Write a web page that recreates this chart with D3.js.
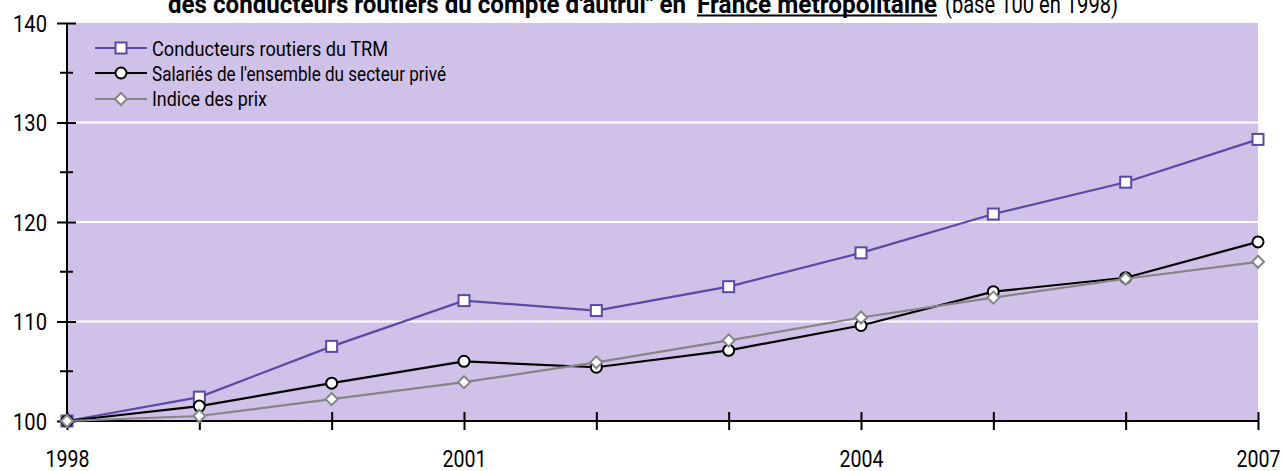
<!DOCTYPE html>
<html><head><meta charset="utf-8">
<script src="https://cdn.jsdelivr.net/npm/d3@7"></script>
<style>
body{margin:0;background:#fff;}
svg{display:block;}
text{font-family:Roboto,"Liberation Sans",sans-serif;}
</style></head>
<body>
<svg id="chart" width="1283" height="471"></svg>
<script>
const years = [1998,1999,2000,2001,2002,2003,2004,2005,2006,2007];
const trm      = [100,102.4,107.5,112.1,111.1,113.5,116.9,120.8,124.0,128.3];
const salaries = [100,101.5,103.8,106.0,105.4,107.1,109.6,113.0,114.4,118.0];
const prix     = [100,100.5,102.2,103.9,105.9,108.1,110.4,112.4,114.3,116.0];
const seriesNames = ["Conducteurs routiers du TRM","Salariés de l'ensemble du secteur privé","Indice des prix"];
const yTicks = [100,110,120,130,140];
const yMinorTicks = [105,115,125,135];
const xLabelYears = [1998,2001,2004,2007];
const titleParts = ["des conducteurs routiers du compte d'autrui\" en","France métropolitaine","(base 100 en 1998)"];

const svg = d3.select("#chart");
const L=67, R=1258, T=23, B=421;
const x = d3.scaleLinear().domain([1998,2007]).range([L,R]);
const y = d3.scaleLinear().domain([100,140]).range([B,T]);

// plot background
svg.append("rect").attr("x",L).attr("y",T).attr("width",R-L).attr("height",B-T).attr("fill","#d0c1e8");
// gridlines
svg.append("g").selectAll("line").data(yTicks.filter(d=>d>100&&d<140)).join("line")
  .attr("x1",L).attr("x2",R).attr("y1",d=>y(d)).attr("y2",d=>y(d))
  .attr("stroke","#fff").attr("stroke-width",2);

// y axis
const yAxis = svg.append("g").attr("transform",`translate(${L},0)`)
  .call(d3.axisLeft(y).tickValues(yTicks).tickSize(10).tickPadding(6).tickFormat(d3.format("d")));
yAxis.select(".domain").attr("stroke","#000").attr("stroke-width",2).attr("d",`M0,${T}V${B}`);
yAxis.selectAll(".tick line").attr("x1",-10).attr("x2",9).attr("stroke","#000").attr("stroke-width",2);
yAxis.selectAll(".tick text").attr("font-size",23).attr("fill","#000").attr("x",-20).attr("dy","0.36em")
  .attr("textLength",34).attr("lengthAdjust","spacingAndGlyphs");
svg.append("g").selectAll("line").data(yMinorTicks).join("line")
  .attr("x1",L-7).attr("x2",L+6).attr("y1",d=>y(d)).attr("y2",d=>y(d))
  .attr("stroke","#000").attr("stroke-width",2);

// x axis
const xAxis = svg.append("g").attr("transform",`translate(0,${B})`)
  .call(d3.axisBottom(x).tickValues(years).tickSize(9).tickFormat(d=>xLabelYears.includes(d)?String(d):""));
xAxis.select(".domain").attr("stroke","#000").attr("stroke-width",2).attr("d",`M${L},0H${R}`);
xAxis.selectAll(".tick line").attr("y1",-9).attr("y2",9).attr("stroke","#000").attr("stroke-width",2);
xAxis.selectAll(".tick text").attr("font-size",23).attr("fill","#000").attr("y",46).attr("dy",0)
  .attr("textLength",d=>xLabelYears.includes(d)?44:null).attr("lengthAdjust","spacingAndGlyphs");

const series = [
  {name:seriesNames[0], values:trm, color:"#5a4aa5", shape:"square"},
  {name:seriesNames[1], values:salaries, color:"#000000", shape:"circle"},
  {name:seriesNames[2], values:prix, color:"#858585", shape:"diamond"}
];
const line = d3.line().x((d,i)=>x(years[i])).y(d=>y(d));

function drawMarker(g, shape, color, cx, cy){
  if(shape==="square"){
    g.append("rect").attr("x",cx-5.5).attr("y",cy-5.5).attr("width",11).attr("height",11)
      .attr("fill","#fff").attr("stroke",color).attr("stroke-width",2);
  } else if(shape==="circle"){
    g.append("circle").attr("cx",cx).attr("cy",cy).attr("r",5.5)
      .attr("fill","#fff").attr("stroke",color).attr("stroke-width",2);
  } else {
    const s=6;
    g.append("path").attr("d",`M${cx},${cy-s}L${cx+s},${cy}L${cx},${cy+s}L${cx-s},${cy}Z`)
      .attr("fill","#fff").attr("stroke",color).attr("stroke-width",2);
  }
}

series.forEach(s=>{
  svg.append("path").datum(s.values).attr("d",line).attr("fill","none")
    .attr("stroke",s.color).attr("stroke-width",2.2);
});
series.forEach(s=>{
  const g=svg.append("g");
  s.values.forEach((v,i)=>drawMarker(g,s.shape,s.color,x(years[i]),y(v)));
});

// legend
const legRows=[48,73,99], legBase=[56,81,106], legLen=[236,294,115];
series.forEach((s,i)=>{
  svg.append("line").attr("x1",95).attr("x2",147).attr("y1",legRows[i]).attr("y2",legRows[i])
    .attr("stroke",s.color).attr("stroke-width",2.2);
  drawMarker(svg.append("g"),s.shape,s.color,121,legRows[i]);
  svg.append("text").attr("x",152).attr("y",legBase[i]).attr("font-size",21).attr("fill","#000")
    .attr("textLength",legLen[i]).attr("lengthAdjust","spacingAndGlyphs").text(s.name);
});

// title
svg.append("text").attr("x",168).attr("y",13).attr("font-size",26).attr("font-weight","bold")
  .attr("textLength",518).attr("lengthAdjust","spacingAndGlyphs").text(titleParts[0]);
svg.append("text").attr("x",697).attr("y",13).attr("font-size",26).attr("font-weight","bold")
  .attr("textLength",240).attr("lengthAdjust","spacingAndGlyphs").text(titleParts[1]);
svg.append("line").attr("x1",697).attr("x2",937).attr("y1",15.5).attr("y2",15.5).attr("stroke","#000").attr("stroke-width",2);
svg.append("text").attr("x",945).attr("y",13).attr("font-size",26)
  .attr("textLength",173).attr("lengthAdjust","spacingAndGlyphs").text(titleParts[2]);
</script>
</body></html>
